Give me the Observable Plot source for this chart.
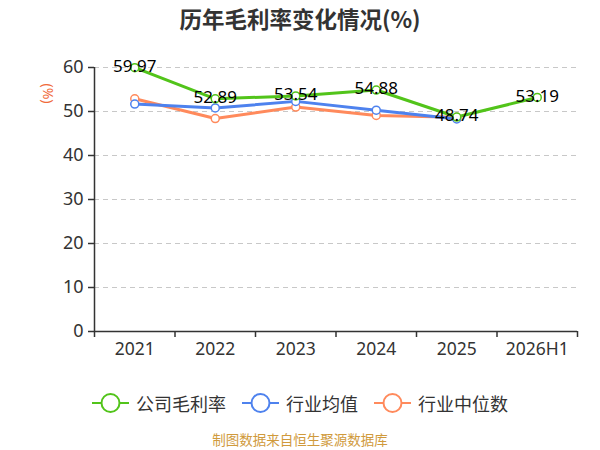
<!DOCTYPE html>
<html><head><meta charset="utf-8">
<script src="https://cdn.jsdelivr.net/npm/d3@7"></script>
<script src="https://cdn.jsdelivr.net/npm/@observablehq/plot@0.6"></script>
<style>
body{margin:0;width:600px;height:450px;background:#fff;font-family:"Noto Sans CJK SC","Noto Sans",sans-serif;overflow:hidden}
#title{height:36px;line-height:36px;text-align:center;font-size:22.5px;font-weight:bold;color:#333}
#legend{display:flex;justify-content:center;align-items:center;height:34px;margin-top:10px;font-size:18px;color:#333}
.item{display:flex;align-items:center;margin:0 8px}
.item svg{margin-right:7px}
#caption{text-align:center;font-size:13.5px;color:#d09a3c;margin-top:9px}
</style></head>
<body>
<div id="title">历年毛利率变化情况(%)</div>
<div id="chart"></div>
<div id="legend"></div>
<div id="caption">制图数据来自恒生聚源数据库</div>
<script>
const categories = ["2021","2022","2023","2024","2025","2026H1"];
const companyMargin = [59.97, 52.89, 53.54, 54.88, 48.74, 53.19];
const industryMean = [51.7, 50.8, 52.3, 50.3, 48.3];
const industryMedian = [52.9, 48.4, 51.0, 49.1, 48.7];
const yTicks = [0, 10, 20, 30, 40, 50, 60];
const seriesNames = ["公司毛利率", "行业均值", "行业中位数"];
const seriesColors = ["#52c41a", "#4e82ee", "#ff8a5c"];

const rows = [];
companyMargin.forEach((v, i) => rows.push({s: seriesNames[0], i, v}));
industryMean.forEach((v, i) => rows.push({s: seriesNames[1], i, v}));
industryMedian.forEach((v, i) => rows.push({s: seriesNames[2], i, v}));
const order = [seriesNames[2], seriesNames[1], seriesNames[0]];
const color = {domain: seriesNames, range: seriesColors};
const bounds = d3.range(-0.5, categories.length, 1);

const chart = Plot.plot({
  width: 600, height: 340,
  marginLeft: 94, marginRight: 23, marginTop: 31, marginBottom: 45,
  style: {fontFamily: '"Noto Sans","Noto Sans CJK SC",sans-serif', fontSize: "18px", color: "#333"},
  x: {domain: [-0.5, categories.length - 0.5], axis: null, label: null},
  y: {domain: [0, 60], axis: null, label: null},
  color,
  marks: [
    Plot.ruleY(yTicks.filter(d => d > 0), {stroke: "#c8c8c8", strokeDasharray: "5,4", strokeWidth: 1}),
    Plot.ruleX([-0.5], {y1: 0, y2: 60, stroke: "#333", strokeWidth: 1.5}),
    Plot.ruleY([0], {stroke: "#333", strokeWidth: 1.5}),
    Plot.axisY({ticks: yTicks, label: null, tickSize: 6, tickPadding: 5, fontSize: 18, stroke: "#333", strokeWidth: 1.5, tickFormat: d => d, fill: "#333"}),
    Plot.axisX({ticks: bounds, label: null, tickSize: 6, tickFormat: () => "", stroke: "#333", strokeWidth: 1.5}),
    Plot.axisX({ticks: d3.range(categories.length), label: null, tickSize: 0, tickPadding: 11, fontSize: 17.5, tickFormat: i => categories[i], fill: "#333"}),
    Plot.text(["(%)"], {frameAnchor: "top-left", dx: -47, dy: 26, rotate: 90, textAnchor: "middle", lineAnchor: "middle", fill: "#f06a3a", fontSize: 14}),
    ...order.map(name => Plot.line(rows.filter(r => r.s === name), {x: "i", y: "v", stroke: "s", strokeWidth: 3})),
    ...order.map(name => Plot.dot(rows.filter(r => r.s === name), {x: "i", y: "v", stroke: "s", fill: "#fff", r: 4, strokeWidth: 1.5})),
    Plot.text(rows.filter(r => r.s === seriesNames[0]), {x: "i", y: "v", text: d => d.v.toFixed(2), fill: "#000", fontSize: 17, dy: -1})
  ]
});
document.getElementById("chart").appendChild(chart);

const legend = document.getElementById("legend");
seriesNames.forEach((n, k) => {
  const it = document.createElement("div");
  it.className = "item";
  it.innerHTML = `<svg width="37" height="22"><line x1="0" y1="11" x2="37" y2="11" stroke="${seriesColors[k]}" stroke-width="2"/><circle cx="18.5" cy="11" r="9" fill="#fff" stroke="${seriesColors[k]}" stroke-width="2"/></svg><span>${n}</span>`;
  legend.appendChild(it);
});
</script>
</body></html>
